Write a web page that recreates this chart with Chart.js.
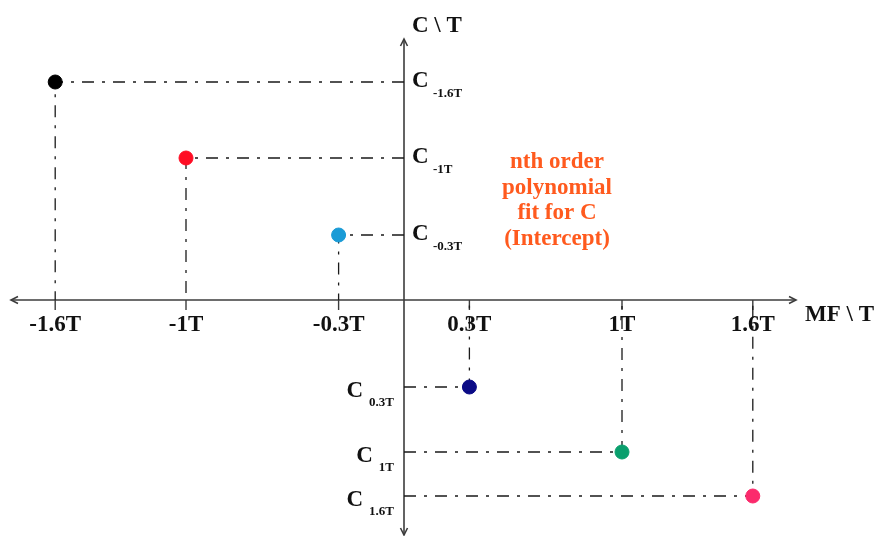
<!DOCTYPE html>
<html lang="en">
<head>
  <meta charset="UTF-8">
  <title>C intercept vs MF</title>
  <script src="https://cdn.jsdelivr.net/npm/chart.js"></script>
  <style>
    html, body {
      margin: 0;
      padding: 0;
      background: #ffffff;
    }

    .chart-container {
      position: relative;
      width: 875px;
      height: 536px;
    }
  </style>
</head>
<body>

<div class="chart-container">
  <canvas id="chart"></canvas>
</div>

<script>
  // field values (T) and fitted intercepts C
  const mfValues   = [-1.6, -1, -0.3, 0.3, 1, 1.6];
  const tickLabels = ['-1.6T', '-1T', '-0.3T', '0.3T', '1T', '1.6T'];
  const cValues    = [2.18, 1.42, 0.65, -0.87, -1.52, -1.96];
  const cSubs      = ['-1.6T', '-1T', '-0.3T', '0.3T', '1T', '1.6T'];
  const pointColors = ['#000000', '#ff0d24', '#1a9bd6', '#0b0b86', '#0a9f6d', '#fb2a6c'];
  const noteLines  = ['nth order', 'polynomial', 'fit for C', '(Intercept)'];

  const SERIF = '"Liberation Serif", "Times New Roman", serif';
  const AXIS_COLOR = '#3c3c3c';

  const ctx = document.getElementById("chart").getContext("2d");

  // dash-dot guides from each point to both axes
  const guideSets = mfValues.map((m, i) => ({
    type: 'line',
    data: [{ x: 0, y: cValues[i] }, { x: m, y: cValues[i] }, { x: m, y: 0 }],
    borderColor: '#1a1a1a',
    borderWidth: 1.3,
    borderDash: [12, 8, 3, 8],
    pointRadius: 0,
    fill: false,
    tension: 0,
    order: 1
  }));

  const pointSet = {
    type: 'scatter',
    data: mfValues.map((m, i) => ({ x: m, y: cValues[i] })),
    backgroundColor: pointColors,
    borderColor: pointColors,
    pointRadius: 7,
    pointHoverRadius: 7,
    order: 0
  };

  function arrow(c, x, y, dx, dy) {
    // small open arrow head pointing along (dx, dy)
    const len = 7, half = 3.5;
    const px = -dy, py = dx;
    c.beginPath();
    c.moveTo(x - dx * len + px * half, y - dy * len + py * half);
    c.lineTo(x, y);
    c.lineTo(x - dx * len - px * half, y - dy * len - py * half);
    c.stroke();
  }

  const axesPlugin = {
    id: 'crossAxes',
    beforeDatasetsDraw(chart) {
      const c = chart.ctx;
      const xs = chart.scales.x, ys = chart.scales.y;
      const x0 = xs.getPixelForValue(0);
      const y0 = ys.getPixelForValue(0);

      c.save();
      c.strokeStyle = AXIS_COLOR;
      c.lineWidth = 1.6;

      // horizontal axis with arrows at both ends
      c.beginPath();
      c.moveTo(11, y0);
      c.lineTo(796, y0);
      c.stroke();
      arrow(c, 11, y0, -1, 0);
      arrow(c, 796, y0, 1, 0);

      // vertical axis
      c.beginPath();
      c.moveTo(x0, 39);
      c.lineTo(x0, 535);
      c.stroke();
      arrow(c, x0, 39, 0, -1);
      arrow(c, x0, 535, 0, 1);

      // tick marks
      c.lineWidth = 1.4;
      mfValues.forEach(m => {
        const px = xs.getPixelForValue(m);
        c.beginPath();
        c.moveTo(px, y0);
        c.lineTo(px, y0 + 10);
        c.stroke();
      });
      c.restore();
    },
    afterDatasetsDraw(chart) {
      const c = chart.ctx;
      const xs = chart.scales.x, ys = chart.scales.y;
      const x0 = xs.getPixelForValue(0);
      const y0 = ys.getPixelForValue(0);

      c.save();
      c.fillStyle = '#111111';
      c.textBaseline = 'alphabetic';

      // tick labels
      c.font = 'bold 23px ' + SERIF;
      c.textAlign = 'center';
      mfValues.forEach((m, i) => {
        c.fillText(tickLabels[i], xs.getPixelForValue(m), y0 + 31);
      });

      // axis titles
      c.textAlign = 'left';
      c.font = 'bold 23px ' + SERIF;
      c.fillText('C \\ T', x0 + 8, 32);
      c.fillText('MF \\ T', 805, y0 + 21);

      // C labels beside the vertical axis
      cValues.forEach((v, i) => {
        const py = ys.getPixelForValue(v);
        if (v > 0) {
          c.textAlign = 'left';
          c.font = 'bold 23px ' + SERIF;
          c.fillText('C', x0 + 8, py + 5);
          c.font = 'bold 13px ' + SERIF;
          c.fillText(cSubs[i], x0 + 29, py + 15);
        } else {
          c.textAlign = 'right';
          c.font = 'bold 13px ' + SERIF;
          const subW = c.measureText(cSubs[i]).width;
          c.fillText(cSubs[i], x0 - 10, py + 19);
          c.font = 'bold 23px ' + SERIF;
          c.fillText('C', x0 - 16 - subW, py + 10);
        }
      });

      // note on the fit
      c.fillStyle = '#ff5a1e';
      c.font = 'bold 23px ' + SERIF;
      c.textAlign = 'center';
      noteLines.forEach((t, i) => {
        c.fillText(t, 557, 168 + i * 25.5);
      });
      c.restore();
    }
  };

  new Chart(ctx, {
    data: { datasets: [pointSet, ...guideSets] },
    options: {
      responsive: true,
      maintainAspectRatio: false,
      animation: false,
      clip: false,
      layout: { padding: 0, autoPadding: false },
      plugins: {
        legend: { display: false },
        tooltip: { enabled: false }
      },
      scales: {
        x: { type: 'linear', display: false, min: -404 / 218, max: 471 / 218 },
        y: { type: 'linear', display: false, min: -2.36, max: 3.0 }
      }
    },
    plugins: [axesPlugin]
  });
</script>

</body>
</html>
